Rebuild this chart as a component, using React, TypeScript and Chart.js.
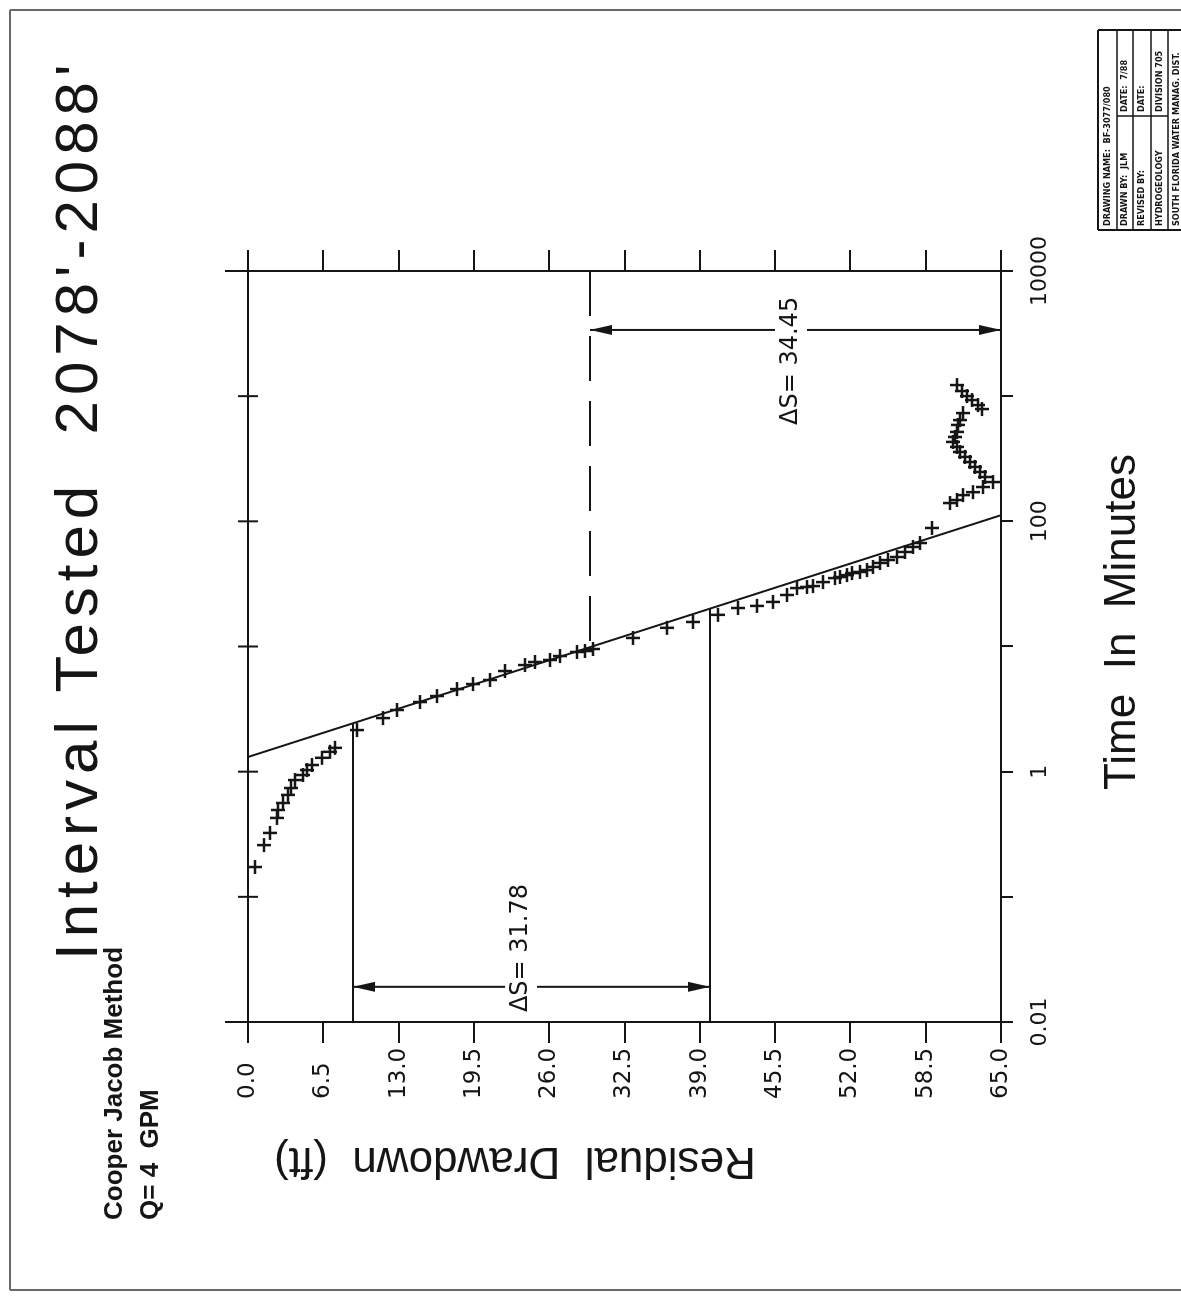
import React, { useEffect, useRef } from "react";
import { Chart, registerables } from "chart.js";

Chart.register(...registerables);

// ---- Observed recovery data: elapsed time (minutes) and residual drawdown (ft)
const timeMinutes = [
  0.173, 0.259, 0.324, 0.427, 0.494, 0.562, 0.652, 0.74, 0.857, 0.94,
  1.03, 1.13, 1.29, 1.44, 1.55, 2.15, 2.68, 3.11, 3.6, 4.02,
  4.57, 5.01, 5.4, 6.37, 7.11, 7.52, 7.8, 8.39, 9.04, 9.2,
  9.55, 11.7, 14.1, 15.7, 17.9, 20.3, 21.1, 22.7, 25.8, 29.3,
  29.9, 30.4, 32.7, 35.2, 35.9, 37.2, 38.6, 39.4, 40.8, 43.2,
  46.5, 49.1, 51.9, 56.9, 62.4, 67.1, 88.5, 140, 148, 162,
  171, 188, 206, 226, 248, 272, 298, 327, 358, 393,
  431, 472, 518, 589, 644, 733, 789, 849, 931, 1002,
  1099, 1227,
];
const residualDrawdown = [
  0.6, 1.38, 1.9, 2.5, 2.59, 3.02, 3.45, 3.71, 4.06, 4.75,
  5.09, 5.52, 6.39, 7.08, 7.51, 9.41, 11.65, 12.86, 14.85, 16.31,
  18.04, 19.42, 20.89, 22.18, 23.91, 24.77, 26.07, 26.93, 28.4, 29.09,
  29.78, 33.23, 36.17, 38.41, 40.57, 42.3, 43.94, 45.32, 46.53, 47.39,
  48.25, 48.77, 49.63, 50.67, 51.1, 51.71, 52.14, 52.83, 53.43, 53.95,
  54.55, 55.24, 56.02, 56.71, 57.4, 58.01, 59.04, 60.6, 61.2, 61.72,
  62.58, 63.45, 64.31, 63.62, 63.19, 62.76, 62.32, 61.89, 61.46, 61.2,
  60.86, 61.03, 61.2, 61.29, 61.46, 61.72, 63.36, 63.01, 62.5, 62.06,
  61.63, 61.2,
];

// ---- Cooper-Jacob straight-line fit
const fitTime = [1.31, 112];
const fitDrawdown = [0, 65];

// ---- Construction lines (drawdown level, from time, to time)
const guideDrawdown = [9.06, 39.88, 29.52];
const guideTimeFrom = [0.01, 0.01, 10000];
const guideTimeTo = [2.43, 20.1, 9.89];

// ---- Delta-S dimension arrows
const deltaText = ["\u0394S= 31.78", "\u0394S= 34.45"];
const deltaArrowTime = [0.0191, 3381];
const deltaFrom = [9.06, 29.52];
const deltaTo = [39.88, 65];
const deltaTextTime = [0.012, 589];
const deltaTextDrawdown = [23.57, 46.87];

// ---- Axes
const timeTicks = [0.01, 0.1, 1, 10, 100, 1000, 10000];
const timeTickLabels = ["0.01", "", "1", "", "100", "", "10000"];
const drawdownTicks = [0, 6.5, 13, 19.5, 26, 32.5, 39, 45.5, 52, 58.5, 65];

// ---- Page texts
const titleText = "Interval Tested  2078'-2088'";
const methodText = "Cooper Jacob Method";
const rateText = "Q= 4  GPM";
const xTitle = "Time  In  Minutes";
const yTitle = "Residual  Drawdown  (ft)";
const blockRows = [
  ["DRAWING NAME:  BF-3077/080", ""],
  ["DRAWN BY:  JLM", "DATE:  7/88"],
  ["REVISED BY:", "DATE:"],
  ["HYDROGEOLOGY", "DIVISION 705"],
  ["SOUTH FLORIDA WATER MANAG. DIST.", ""],
];

const W = 1297;
const H = 1181;
const INK = "#151515";

function seg(ctx: CanvasRenderingContext2D, x1: number, y1: number, x2: number, y2: number) {
  ctx.beginPath();
  ctx.moveTo(x1, y1);
  ctx.lineTo(x2, y2);
  ctx.stroke();
}

function head(ctx: CanvasRenderingContext2D, x: number, y: number, dir: number) {
  ctx.beginPath();
  ctx.moveTo(x, y);
  ctx.lineTo(x - 5, y - dir * 22);
  ctx.lineTo(x + 5, y - dir * 22);
  ctx.closePath();
  ctx.fill();
}

const pagePlugin = {
  id: "pagePlugin",
  beforeDraw(chart: any) {
    const { ctx } = chart;
    ctx.save();
    ctx.fillStyle = "#ffffff";
    ctx.fillRect(0, 0, chart.width, chart.height);
    ctx.restore();
  },
  afterDraw(chart: any) {
    const ctx: CanvasRenderingContext2D = chart.ctx;
    const ca = chart.chartArea;
    const xs = chart.scales.x;
    const ys = chart.scales.y;
    ctx.save();
    ctx.strokeStyle = INK;
    ctx.fillStyle = INK;
    ctx.lineWidth = 2;

    // top border and axis extensions
    seg(ctx, ca.left, ca.top, ca.right, ca.top);
    seg(ctx, ca.left, ca.top - 23, ca.left, ca.top);
    seg(ctx, ca.right, ca.top - 23, ca.right, ca.top);
    timeTicks.forEach((v) => {
      const px = xs.getPixelForValue(v);
      seg(ctx, px, ca.top - 10, px, ca.top + 10);
    });

    // delta-S dimensions
    ctx.font = "24px 'DejaVu Sans'";
    ctx.textAlign = "left";
    ctx.textBaseline = "middle";
    deltaText.forEach((label, i) => {
      const ax = xs.getPixelForValue(deltaArrowTime[i]);
      const y1 = ys.getPixelForValue(deltaFrom[i]);
      const y2 = ys.getPixelForValue(deltaTo[i]);
      const tx = xs.getPixelForValue(deltaTextTime[i]);
      const ty = ys.getPixelForValue(deltaTextDrawdown[i]);
      seg(ctx, ax, y1, ax, ty - 16);
      seg(ctx, ax, ty + 16, ax, y2);
      head(ctx, ax, y1, -1);
      head(ctx, ax, y2, 1);
      ctx.fillText(label, tx, ty);
    });

    // page texts
    ctx.textBaseline = "alphabetic";
    ctx.font = "60px 'Liberation Sans'";
    (ctx as any).letterSpacing = "6px";
    ctx.fillText(titleText, 337, 97);
    (ctx as any).letterSpacing = "0px";
    ctx.font = "bold 26px 'Liberation Sans'";
    ctx.fillText(methodText, 77, 122);
    ctx.fillText(rateText, 77, 158);

    ctx.font = "44px 'Liberation Sans'";
    ctx.textAlign = "center";
    ctx.fillText(xTitle, 675, 1135);
    ctx.save();
    ctx.translate(149, 515);
    ctx.rotate(-Math.PI / 2);
    ctx.fillText(yTitle, 0, 0);
    ctx.restore();

    // title block
    const bl = 1067, br = 1267, bt = 1098;
    const rows = [1098, 1117, 1133, 1151, 1168, 1186];
    ctx.lineWidth = 2;
    seg(ctx, bl, bt, br, bt);
    seg(ctx, bl, bt, bl, H);
    seg(ctx, br, bt, br, H);
    ctx.lineWidth = 1.5;
    rows.slice(1, 5).forEach((r) => seg(ctx, bl, r, br, r));
    seg(ctx, 1181, rows[1], 1181, rows[4]);
    ctx.font = "bold 9px 'DejaVu Sans Condensed', 'DejaVu Sans'";
    ctx.textAlign = "left";
    ctx.textBaseline = "middle";
    blockRows.forEach((row, i) => {
      const cy = (rows[i] + rows[i + 1]) / 2;
      ctx.fillText(row[0], bl + 4, cy, row[1] ? 108 : 190);
      if (row[1]) ctx.fillText(row[1], 1185, cy, 78);
    });

    // scanned page frame
    ctx.strokeStyle = "#6a6a6a";
    ctx.lineWidth = 2;
    seg(ctx, 7, 10, 1287, 10);
    seg(ctx, 7, 10, 7, H);
    seg(ctx, 1287, 10, 1287, H);
    ctx.restore();
  },
};

export default function App() {
  const ref = useRef<HTMLCanvasElement>(null);

  useEffect(() => {
    document.body.style.margin = "0";
    document.body.style.overflow = "hidden";
    const canvas = ref.current;
    if (!canvas) return;

    const observed = timeMinutes.map((t, i) => ({ x: t, y: residualDrawdown[i] }));
    const fit = fitTime.map((t, i) => ({ x: t, y: fitDrawdown[i] }));
    const guides = guideDrawdown.map((s, i) => ({
      type: "line" as const,
      data: [
        { x: guideTimeFrom[i], y: s },
        { x: guideTimeTo[i], y: s },
      ],
      borderColor: INK,
      borderWidth: 2,
      borderDash: i === 2 ? [45, 20] : [],
      pointRadius: 0,
      fill: false,
      tension: 0,
      yAxisID: "y",
    }));

    const tickFont = { family: "'DejaVu Sans'", size: 23 };

    const chart = new Chart(canvas, {
      type: "scatter",
      data: {
        datasets: [
          {
            type: "scatter",
            data: observed,
            pointStyle: "cross",
            pointRadius: 7,
            pointBorderWidth: 2.5,
            borderColor: INK,
            backgroundColor: INK,
            yAxisID: "y",
          },
          {
            type: "line",
            data: fit,
            borderColor: INK,
            borderWidth: 2,
            pointRadius: 0,
            fill: false,
            tension: 0,
            yAxisID: "y",
          },
          ...guides,
        ] as any,
      },
      options: {
        responsive: false,
        maintainAspectRatio: false,
        devicePixelRatio: 1,
        animation: false,
        layout: { padding: { left: 198, top: 248, right: 0, bottom: 0 } },
        plugins: { legend: { display: false }, title: { display: false }, tooltip: { enabled: false } },
        scales: {
          x: {
            type: "logarithmic",
            position: "bottom",
            min: 0.01,
            max: 10000,
            afterBuildTicks: (s: any) => {
              s.ticks = timeTicks.map((v) => ({ value: v }));
            },
            afterFit: (s: any) => {
              s.height = 180;
            },
            ticks: {
              autoSkip: false,
              maxRotation: 0,
              minRotation: 0,
              padding: 14,
              color: INK,
              font: { family: "'DejaVu Sans'", size: 22 },
              callback: (_v: any, i: number) => timeTickLabels[i],
            },
            grid: { drawOnChartArea: false, tickLength: 12, color: INK, lineWidth: 2 },
            border: { display: true, color: INK, width: 2 },
          },
          y: {
            type: "linear",
            position: "left",
            reverse: true,
            min: 0,
            max: 65,
            afterBuildTicks: (s: any) => {
              s.ticks = drawdownTicks.map((v) => ({ value: v }));
            },
            afterFit: (s: any) => {
              s.width = 77;
            },
            ticks: {
              crossAlign: "far",
              padding: 6,
              color: INK,
              font: tickFont,
              callback: (v: any) => Number(v).toFixed(1),
            },
            grid: { drawOnChartArea: false, tickLength: 21, color: INK, lineWidth: 2 },
            border: { display: true, color: INK, width: 2 },
          },
          yR: {
            type: "linear",
            position: "right",
            reverse: true,
            min: 0,
            max: 65,
            afterBuildTicks: (s: any) => {
              s.ticks = drawdownTicks.map((v) => ({ value: v }));
            },
            afterFit: (s: any) => {
              s.width = 271;
            },
            ticks: { display: false },
            grid: { drawOnChartArea: false, tickLength: 21, color: INK, lineWidth: 2 },
            border: { display: true, color: INK, width: 2 },
          },
        },
      } as any,
      plugins: [pagePlugin],
    });

    return () => chart.destroy();
  }, []);

  return (
    <div
      style={{
        position: "absolute",
        left: 0,
        top: 0,
        width: W,
        height: H,
        transformOrigin: "0 0",
        transform: `translateY(${W}px) rotate(-90deg)`,
      }}
    >
      <canvas ref={ref} width={W} height={H} style={{ width: W, height: H, display: "block" }} />
    </div>
  );
}
